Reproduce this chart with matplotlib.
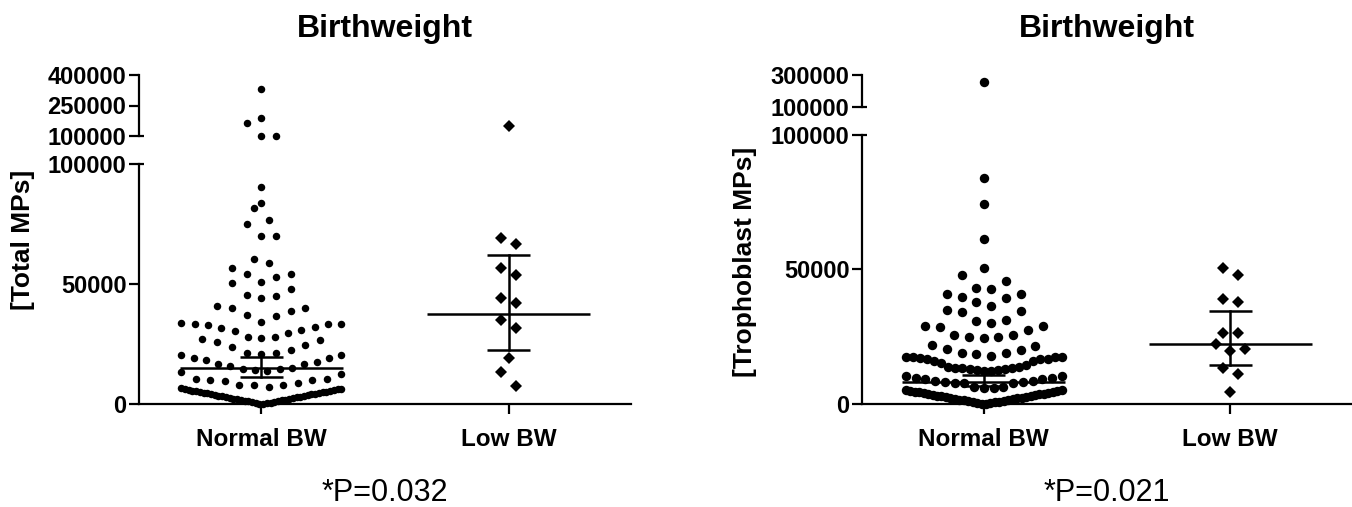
import numpy as np
import matplotlib
matplotlib.use("Agg")
import matplotlib.pyplot as plt

plt.rcParams["font.family"] = ["Liberation Sans", "DejaVu Sans"]

W, H = 1352, 507

groups = ["Normal BW", "Low BW"]

# ---- Total MPs (left) ----
total_normal = [
    330000, 187000, 165000, 102000, 101000,
    90600, 83600, 81600, 76500, 74900, 70100, 69900, 60500, 58600, 56800,
    54000, 54000, 52800, 50700, 50300, 48000,
    44000, 45400, 45000, 39900, 38900, 39900, 40800, 36700, 37100,
    32900, 31500, 30500, 33900, 33300, 33300, 32000, 33300, 34300, 30800,
    28000, 27600, 26700, 27200, 28000, 29500, 25800,
    24600, 22500, 21400, 20400, 20400, 20800, 21400, 23900,
    19000, 17600, 16700, 14900, 14500, 13900, 14200, 14500, 15800, 16700,
    18300, 19000, 12500, 13500,
    10300, 10000, 9700, 7900, 7900, 7000, 7900, 8900, 10000, 10300,
    6520, 6370, 6210, 6050, 5920, 5780, 5600, 5470, 5330, 5160,
    5010, 4880, 4700, 4570, 4400, 4260, 4090, 3970, 3810, 3640, 3520, 3350,
    3180, 3060, 2930, 2750, 2600, 2470, 2280, 2140, 1990, 1820, 1690, 1500,
    1380, 1230, 1050, 900, 760, 580, 450, 310, 120, 0,
]
total_low = [149000, 69200, 66700, 56700, 53800, 44200, 42000, 35000, 31700,
             19200, 13300, 7500]
total_center = [14900, 37500]
total_err_lo = [11400, 22500]
total_err_hi = [19700, 62100]

# ---- Trophoblast MPs (right) ----
troph_normal = [
    254000,
    83900, 74500, 61500, 50600, 48100, 45600, 43100, 42800,
    40900, 39400, 39700, 40900, 36600, 37800, 34200, 35100, 34700, 31300, 30700,
    29100, 28600, 29100, 30100, 25700, 24900, 24500, 24900, 25700, 27600,
    21400, 20100, 18900, 17600, 17400, 17400, 17900, 18700, 18900, 20400, 22000,
    17600, 16600, 16600, 16000, 16600, 17000, 15800, 15200,
    13900, 13300, 12700, 12900, 12400, 12400, 12700, 12900, 13300, 13500, 13900, 14600,
    10400, 9600, 9200, 8700, 8300, 7900, 7700, 7900, 8300, 8700, 9200, 9600, 10400,
    5800, 5200, 4600, 5200, 5800, 6500, 6500,
    4800, 4650, 4500, 4330, 4200, 4050, 3880, 3750, 3600, 3420, 3300, 3150,
    2980, 2850, 2700, 2530, 2400, 2250, 2080, 1950, 1800, 1640, 1500, 1330,
    1200, 1050, 880, 750, 600, 420, 300, 150, 0,
]
troph_low = [50400, 47800, 37900, 39000, 26500, 26400, 22400, 19700, 20400,
             13300, 11200, 4600]
troph_center = [8000, 22400]
troph_err_lo = [6800, 14500]
troph_err_hi = [10600, 34400]

fig = plt.figure(figsize=(W / 100, H / 100), dpi=100)


def box(x0, y0, x1, y1):
    return [x0 / W, 1 - y1 / H, (x1 - x0) / W, (y1 - y0) / H]


def scatter_rows(p, row_h, step, half_w):
    """Prism-like column scatter: points whose heights (px) fall within row_h
    of the row's first point share a row; lowest sits in the middle, the rest
    alternate right / left.  Returns x offsets in px."""
    p = np.asarray(p, dtype=float)
    xs = np.zeros(len(p))
    order = list(np.argsort(p, kind="stable"))
    while order:
        start = p[order[0]]
        row = [i for i in order if p[i] - start < row_h]
        order = order[len(row):]
        n = len(row)
        s = step if n < 2 else min(step, 2 * half_w / (n - 1))
        for k, i in enumerate(row):
            if n % 2:
                m = (k + 1) // 2
                pos = 0 if k == 0 else (m if k % 2 else -m)
            else:
                m = k // 2 + 0.5
                pos = m if k % 2 == 0 else -m
            xs[i] = pos * s
    return xs


def panel(x0, x1, brk_top, brk_bot, up_ticks, up_lim, normal, low,
          center, err_lo, err_hi, ylabel, ylab_xy, title, ptext,
          dot_ms, dia_ms, row_h, half_w):
    ax_up = fig.add_axes(box(x0, 75, x1, brk_top))
    ax_lo = fig.add_axes(box(x0, brk_bot, x1, 404))
    xlim = (-0.494, 1.494)
    for ax in (ax_up, ax_lo):
        ax.set_xlim(*xlim)
        ax.patch.set_alpha(0)
        for s in ("top", "right"):
            ax.spines[s].set_visible(False)
        ax.spines["left"].set_linewidth(1.6)
        ax.tick_params(axis="y", direction="out", length=7, width=1.6, pad=2)
    ax_up.spines["bottom"].set_visible(False)
    ax_up.set_xticks([])
    ax_up.set_ylim(*up_lim)
    ax_up.set_yticks(up_ticks)
    ax_up.set_yticklabels([str(t) for t in up_ticks], fontweight="bold", fontsize=17)
    ax_lo.set_ylim(0, 100000)
    ax_lo.set_yticks([0, 50000, 100000])
    ax_lo.set_yticklabels(["0", "50000", "100000"], fontweight="bold", fontsize=17)
    ax_lo.spines["bottom"].set_linewidth(1.6)
    ax_lo.set_xticks([0, 1])
    ax_lo.set_xticklabels(groups, fontweight="bold", fontsize=17.5)
    ax_lo.tick_params(axis="x", direction="out", length=7, width=1.6, pad=10)

    # little caps at the axis break
    cap = 0.022
    ax_up.plot([xlim[0], xlim[0] + cap], [up_lim[0]] * 2, color="black", lw=1.6,
               clip_on=False, solid_capstyle="butt")
    ax_lo.plot([xlim[0], xlim[0] + cap], [100000] * 2, color="black", lw=1.6,
               clip_on=False, solid_capstyle="butt")

    px_unit = ax_lo.transData.transform((1, 0))[0] - ax_lo.transData.transform((0, 0))[0]
    for g, vals, marker, ms in ((0, normal, "o", dot_ms), (1, low, "D", dia_ms)):
        vals = np.asarray(vals, dtype=float)
        up = vals > 100000
        xs = np.full(len(vals), float(g))
        for ax, mask, base in ((ax_up, up, up_lim[0]), (ax_lo, ~up, 0)):
            if not mask.any():
                continue
            ypx = ax.transData.transform(np.column_stack([np.zeros(mask.sum()), vals[mask]]))[:, 1]
            y0 = ax.transData.transform((0, base))[1]
            xs[mask] = g + scatter_rows(ypx - y0, row_h, 14.7, half_w) / px_unit
            ax.plot(xs[mask], vals[mask], marker, color="black", ms=ms, mew=0,
                    ls="none", clip_on=False)

    for g in range(2):
        ax_lo.plot([g - 0.33, g + 0.33], [center[g]] * 2, color="black", lw=1.8,
                   solid_capstyle="butt")
        ax_lo.plot([g, g], [err_lo[g], err_hi[g]], color="black", lw=1.8)
        for e in (err_lo[g], err_hi[g]):
            ax_lo.plot([g - 0.087, g + 0.087], [e, e], color="black", lw=1.8,
                       solid_capstyle="butt")

    fig.text(ylab_xy[0] / W, 1 - ylab_xy[1] / H, ylabel, rotation=90, ha="center",
             va="center", fontsize=19, fontweight="bold")
    mid = (x0 + x1) / 2
    fig.text(mid / W, 1 - 29 / H, title, ha="center", va="center", fontsize=23,
             fontweight="bold")
    fig.text(mid / W, 1 - 493 / H, ptext, ha="center", va="center", fontsize=22)


panel(139, 631, 136, 164, [100000, 250000, 400000], (100000, 400000),
      total_normal, total_low, total_center, total_err_lo, total_err_hi,
      "[Total MPs]", (23, 240), "Birthweight", "*P=0.032", 5.4, 6.2, 15.8, 80)
panel(862, 1352, 107, 135, [100000, 300000], (100000, 300000),
      troph_normal, troph_low, troph_center, troph_err_lo, troph_err_hi,
      "[Trophoblast MPs]", (745, 262), "Birthweight", "*P=0.021", 6.8, 6.6, 14.5, 78)

fig.savefig("out.png", dpi=100)
